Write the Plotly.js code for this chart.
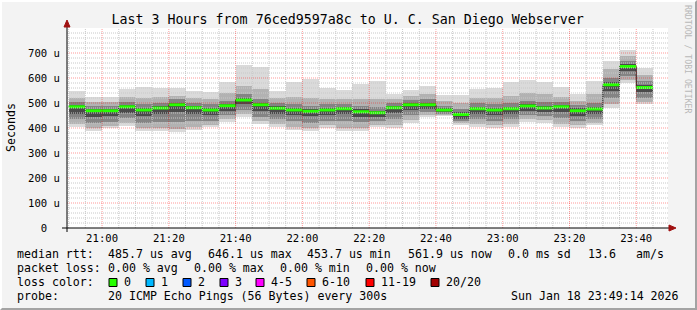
<!DOCTYPE html>
<html>
<head>
<meta charset="utf-8">
<script src="https://cdn.plot.ly/plotly-3.0.1.min.js"></script>
<style>
  html, body { margin: 0; padding: 0; background: #f3f3f3; }
  #wrap { position: relative; width: 697px; height: 310px; }
  #chart { width: 697px; height: 310px; }
  #frame { position: absolute; left: 0; top: 0; width: 697px; height: 310px; box-sizing: border-box;
           border-top: 2px solid #ffffff; border-left: 2px solid #ffffff;
           border-right: 2px solid #a3a3a3; border-bottom: 2px solid #a3a3a3; pointer-events: none; }
</style>
</head>
<body>
<div id="wrap"><div id="chart"></div><div id="frame"></div></div>
<script>
// ---- data (microseconds) ----
const intervalStart = ['20:50','20:55','21:00','21:05','21:10','21:15','21:20','21:25','21:30','21:35',
  '21:40','21:45','21:50','21:55','22:00','22:05','22:10','22:15','22:20','22:25','22:30','22:35',
  '22:40','22:45','22:50','22:55','23:00','23:05','23:10','23:15','23:20','23:25','23:30','23:35','23:40'];
const pingMin  = [403,388,399,408,389,388,385,392,403,425,445,416,403,392,389,399,389,389,403,399,419,443,448,412,403,399,403,425,421,403,399,412,481,581,496];
const band2Lo  = [418,402,410,422,402,402,398,406,412,436,458,428,416,406,402,412,402,402,412,412,432,452,452,420,416,412,416,436,432,416,412,420,496,592,506];
const band3Lo  = [435,420,425,440,422,425,425,428,430,452,474,445,435,428,422,430,428,425,428,435,452,465,458,428,435,430,435,452,448,440,430,438,520,608,522];
const band4Lo  = [458,445,447,462,450,455,465,458,452,470,495,470,458,452,447,452,455,445,443,460,474,478,464,438,458,452,458,470,465,465,450,457,550,630,545];
const medianRtt= [485,469,469,485,472,480,493,481,472,489,512,493,479,472,467,472,477,465,461,481,493,493,472,454,477,472,477,488,480,485,469,476,573,646,562];
const band4Hi  = [494,478,478,494,482,489,502,490,482,498,522,502,488,482,476,482,486,475,470,490,502,502,480,464,486,482,486,497,490,494,479,486,585,656,572];
const band3Hi  = [505,490,490,505,495,502,515,502,495,510,538,518,500,495,490,495,497,488,483,500,512,515,490,478,500,495,500,510,503,505,492,500,600,670,588];
const band2Hi  = [520,503,503,525,520,525,530,520,515,540,570,555,520,525,520,515,515,515,515,515,528,538,510,500,520,520,528,540,535,525,510,535,635,690,612];
const pingMax  = [549,525,525,555,565,561,561,548,545,583,652,643,548,583,596,561,552,576,588,535,552,569,532,532,555,559,585,592,583,563,536,588,668,712,639];

const xTickVals = ['21:00','21:20','21:40','22:00','22:20','22:40','23:00','23:20','23:40'];
const yTickVals = [0,100,200,300,400,500,600,700];
const yTickText = ['0\u00a0\u00a0','100 u','200 u','300 u','400 u','500 u','600 u','700 u'];

const lossLabels = ['0','1','2','3','4-5','6-10','11-19','20/20'];
const lossColors = ['#26ff00','#00b8ff','#0059ff','#7e00ff','#ff00ff','#ff5500','#ff0000','#a10000'];

// ---- helpers ----
const DAY = '2026-01-18 ';
function pad(n){ return String(n).padStart(2,'0'); }
function ts(hm, addSec){
  const p = hm.split(':').map(Number);
  const s = p[0]*3600 + p[1]*60 + (addSec||0);
  return DAY + pad(Math.floor(s/3600)) + ':' + pad(Math.floor((s%3600)/60)) + ':' + pad(s%60);
}
const L = 67, T = 28, W = 601, H = 200;
const PX = X => (X - L) / W;
const PY = Y => (T + H - Y) / H;
const MONO = 'DejaVu Sans Mono';

// ---- traces ----
const centers = intervalStart.map(t => ts(t, 150));
const widths = intervalStart.map(() => 300000);
const bands = [
  [pingMin, pingMax, '#dadada'],
  [band2Lo, band2Hi, '#b2b2b2'],
  [band3Lo, band3Hi, '#848484'],
  [band4Lo, band4Hi, '#4a4a4a']
];
const traces = bands.map(b => ({
  type: 'bar', x: centers, base: b[0], y: b[1].map((v,i) => v - b[0][i]), width: widths,
  marker: { color: b[2], line: { width: 0 } }, hoverinfo: 'skip', showlegend: false
}));

// thin dark median step line
const stepX = intervalStart.map(t => ts(t, 0)).concat([ts(intervalStart[intervalStart.length-1], 300)]);
const stepY = medianRtt.concat([medianRtt[medianRtt.length-1]]);
traces.push({ type: 'scatter', mode: 'lines', x: stepX, y: stepY, line: { color: '#202020', width: 1, shape: 'hv' },
  hoverinfo: 'skip', showlegend: false });

// green median segments
const gx = [], gy = [];
intervalStart.forEach((t,i) => { gx.push(ts(t,0), ts(t,300), null); gy.push(medianRtt[i], medianRtt[i], null); });
traces.push({ type: 'scatter', mode: 'lines', x: gx, y: gy, line: { color: lossColors[0], width: 3 },
  hoverinfo: 'skip', showlegend: false, connectgaps: false });

// ---- grid shapes (drawn above smoke, like rrdtool) ----
const shapes = [];
for (let v = 20; v < 800; v += 20) {
  const major = v % 100 === 0;
  shapes.push({ type: 'line', xref: 'paper', yref: 'y', x0: 0, x1: 1, y0: v, y1: v, layer: 'above',
    line: { color: major ? 'rgba(255,0,0,0.4)' : '#c8c8c8', width: 1, dash: '1px,1px' } });
}
for (let m = 20*60+50; m <= 23*60+45; m += 5) {
  const hm = pad(Math.floor(m/60)) + ':' + pad(m%60);
  const major = m % 20 === 0;
  shapes.push({ type: 'line', xref: 'x', yref: 'paper', x0: ts(hm,0), x1: ts(hm,0), y0: 0, y1: 1, layer: 'above',
    line: { color: major ? 'rgba(255,0,0,0.4)' : '#c8c8c8', width: 1, dash: '1px,1px' } });
}
// axis lines and arrows
shapes.push({ type: 'line', xref: 'paper', yref: 'paper', x0: PX(62), x1: PX(671), y0: PY(228), y1: PY(228), layer: 'above',
  line: { color: '#000000', width: 1 } });
shapes.push({ type: 'line', xref: 'paper', yref: 'paper', x0: PX(67), x1: PX(67), y0: PY(232), y1: PY(24), layer: 'above',
  line: { color: '#000000', width: 1 } });
shapes.push({ type: 'path', xref: 'paper', yref: 'paper', layer: 'above',
  path: `M ${PX(64)} ${PY(27)} L ${PX(67)} ${PY(20)} L ${PX(70)} ${PY(27)} Z`,
  fillcolor: '#a01010', line: { color: '#a01010', width: 1 } });
shapes.push({ type: 'path', xref: 'paper', yref: 'paper', layer: 'above',
  path: `M ${PX(669)} ${PY(225)} L ${PX(676)} ${PY(228)} L ${PX(669)} ${PY(231)} Z`,
  fillcolor: '#a01010', line: { color: '#a01010', width: 1 } });

// ---- text ----
const ann = [];
function txt(text, X, Y, o) {
  ann.push(Object.assign({ xref: 'paper', yref: 'paper', x: PX(X), y: PY(Y), text: text, showarrow: false,
    xanchor: 'left', yanchor: 'middle', borderpad: 0,
    font: { family: MONO, size: 11.6, color: '#000000' } }, o || {}));
}
const row1 = [['median rtt:',16],['485.7 us avg',107],['646.1 us max',207],['453.7 us min',306],['561.9 us now',407],['0.0 ms sd',507],['13.6',587],['am/s',635]];
const row2 = [['packet loss:',16],['0.00 % avg',107],['0.00 % max',193],['0.00 % min',279],['0.00 % now',365]];
row1.forEach(r => txt(r[0], r[1], 254));
row2.forEach(r => txt(r[0], r[1], 268));
txt('loss color:', 16, 282);
const boxX = [109,146,183,220,256,307,366,431];
lossLabels.forEach((lab,i) => {
  shapes.push({ type: 'rect', xref: 'paper', yref: 'paper', x0: PX(boxX[i]), x1: PX(boxX[i]+8), y0: PY(286.5), y1: PY(278.5),
    fillcolor: lossColors[i], line: { color: '#000000', width: 1 } });
  txt(lab, boxX[i] + 14, 282);
});
txt('probe:', 16, 296);
txt('20 ICMP Echo Pings (56 Bytes) every 300s', 107, 296);
txt('Sun Jan 18 23:49:14 2026', 680, 296, { xanchor: 'right' });
txt('Seconds', 11, 128, { xanchor: 'center', textangle: -90, font: { family: MONO, size: 11.6, color: '#000000' } });
txt('RRDTOOL / TOBI OETIKER', 688, 59, { xanchor: 'center', textangle: 90, font: { family: MONO, size: 8.2, color: '#b8b8b8' } });

const layout = {
  width: 697, height: 310,
  margin: { l: L, r: 697 - L - W, t: T, b: 310 - T - H, pad: 0 },
  paper_bgcolor: '#f3f3f3', plot_bgcolor: '#ffffff',
  title: { text: 'Last 3 Hours from 76ced9597a8c to U. C. San Diego Webserver', x: 347.7/697, xanchor: 'center',
    xref: 'container', yref: 'container', y: 1 - 19/310, yanchor: 'middle',
    font: { family: MONO, size: 13.3, color: '#000000' } },
  barmode: 'overlay', bargap: 0, showlegend: false,
  xaxis: { type: 'date', range: [DAY + '20:49:30', DAY + '23:49:30'], showgrid: false, zeroline: false, showline: false,
    tickmode: 'array', tickvals: xTickVals.map(t => ts(t,0)), ticktext: xTickVals, ticks: '', ticklabelstandoff: 2,
    tickfont: { family: MONO, size: 10.6, color: '#000000' }, fixedrange: true },
  yaxis: { range: [0, 800], showgrid: false, zeroline: false, showline: false,
    tickmode: 'array', tickvals: yTickVals, ticktext: yTickText, ticks: '', ticklabelstandoff: 6,
    tickfont: { family: MONO, size: 10.6, color: '#000000' }, fixedrange: true },
  shapes: shapes, annotations: ann
};
Plotly.newPlot('chart', traces, layout, { displayModeBar: false, staticPlot: true });
</script>
</body>
</html>
